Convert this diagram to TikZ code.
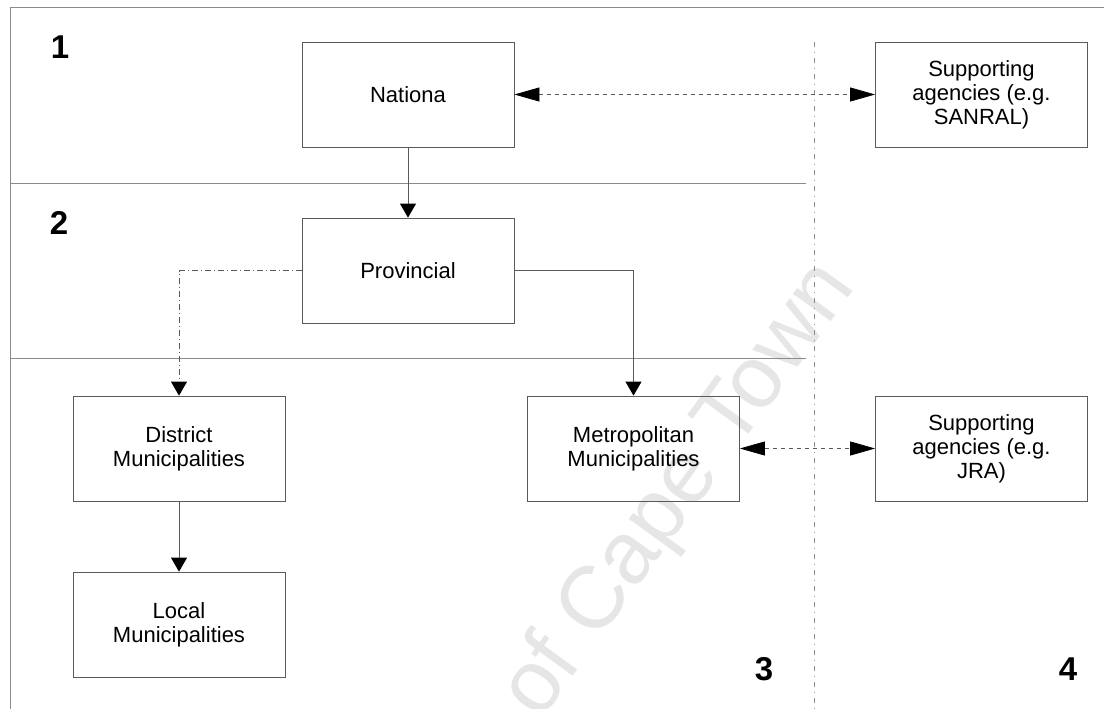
\documentclass[tikz,border=0pt]{standalone}
\usepackage{fontspec}
\setmainfont{Liberation Sans}
\usetikzlibrary{arrows.meta}

\definecolor{framegray}{HTML}{8A8A8A}
\definecolor{boxgray}{HTML}{5A5A5A}
\definecolor{markgray}{HTML}{E6E6E6}

\tikzset{
  org/.style={draw=boxgray, line width=0.8pt, minimum width=212pt, minimum height=105pt,
    inner sep=0pt, align=center, font=\fontsize{22}{24}\selectfont},
  frameline/.style={draw=framegray, line width=0.8pt},
  divider/.style={draw=framegray, line width=0.8pt, dash pattern=on 5pt off 5pt on 1pt off 5pt},
  levelno/.style={font=\fontsize{33}{36}\selectfont\bfseries, inner sep=0pt},
  vtip/.style={-{Triangle[length=14pt,width=16pt,color=black]}},
  link/.style={draw=boxgray, line width=0.8pt},
  twoway/.style={draw=boxgray, line width=0.8pt, dash pattern=on 4pt off 4pt,
    {Triangle[length=25pt,width=14pt,color=black]}-{Triangle[length=25pt,width=14pt,color=black]}},
}

\begin{document}
\begin{tikzpicture}[x=1pt, y=-1pt]
  \useasboundingbox[fill=white] (0,0) rectangle (1104,709);

  % faint watermark
  \node[anchor=base west, rotate=54, text=markgray, font=\fontsize{88}{90}\selectfont, inner sep=0pt]
    (wm) at (540,722) {of Cape Town};

  % level frames
  \draw[frameline] (10,7) -- (1104,7);
  \draw[frameline] (10,7) -- (10,709);
  \draw[frameline] (10,183) -- (806,183);
  \draw[frameline] (10,358) -- (806,358);
  \draw[divider] (814,42) -- (814,709);

  % level numbers
  \node[levelno] (n1) at (60,47) {1};
  \node[levelno] (n2) at (59,223) {2};
  \node[levelno] (n3) at (764,669) {3};
  \node[levelno] (n4) at (1068,669) {4};

  % organisations
  \node[org] (nat) at (408,94.5) {Nationa};
  \node[org] (sanral) at (981.5,94.5) {Supporting\\agencies (e.g.\\SANRAL)};
  \node[org] (prov) at (408,270.5) {Provincial};
  \node[org] (dist) at (179,448.5) {District\\Municipalities};
  \node[org] (metro) at (633.5,448.5) {Metropolitan\\Municipalities};
  \node[org] (jra) at (981.5,448.5) {Supporting\\agencies (e.g.\\JRA)};
  \node[org] (local) at (179,624.5) {Local\\Municipalities};

  % connectors
  \draw[link, vtip] (nat.south) -- (prov.north);
  \draw[twoway] (nat.east) -- (sanral.west);
  \draw[link, vtip, dash pattern=on 6pt off 3pt on 1pt off 3pt] (prov.west) -| (dist.north);
  \draw[link, vtip] (prov.east) -| (metro.north);
  \draw[link, vtip] (dist.south) -- (local.north);
  \draw[twoway] (metro.east) -- (jra.west);
\end{tikzpicture}
\end{document}
